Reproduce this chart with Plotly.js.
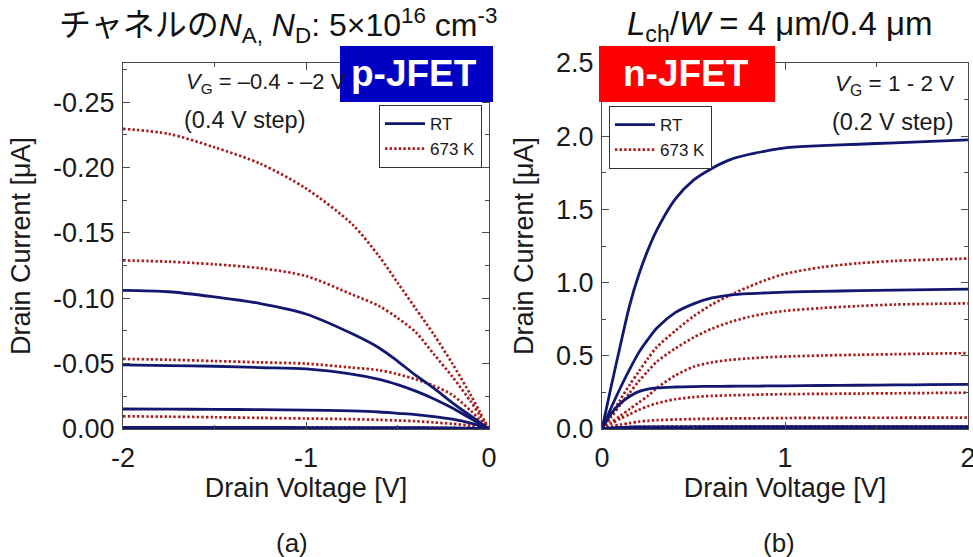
<!DOCTYPE html>
<html>
<head>
<meta charset="utf-8">
<script src="https://cdn.plot.ly/plotly-3.0.1.min.js"></script>
<style>html,body{margin:0;padding:0;background:#fff;}#chart{width:973px;height:557px;}</style>
</head>
<body>
<div id="chart"></div>
<script>
// ---------- data: p-JFET (a) ----------
const vdP = [-2, -1.75, -1.5, -1.25, -1, -0.75, -0.6, -0.5, -0.4, -0.3, -0.2, -0.1, -0.05, 0];
const idP_RT_1 = [-0.106,-0.105,-0.101,-0.096,-0.088,-0.073,-0.062,-0.052,-0.041,-0.031,-0.020,-0.010,-0.005,0];
const idP_RT_2 = [-0.049,-0.0485,-0.048,-0.047,-0.046,-0.042,-0.038,-0.034,-0.029,-0.023,-0.016,-0.008,-0.004,0];
const idP_RT_3 = [-0.0153,-0.0152,-0.015,-0.0148,-0.0145,-0.0138,-0.013,-0.012,-0.011,-0.0095,-0.0075,-0.0045,-0.0025,0];
const idP_RT_4 = [-0.0012,-0.0012,-0.0012,-0.0012,-0.0011,-0.0011,-0.0011,-0.001,-0.001,-0.0009,-0.0008,-0.0006,-0.0004,0];
const idP_RT_5 = [-0.0003,-0.0003,-0.0003,-0.0003,-0.0003,-0.0003,-0.0003,-0.0003,-0.0003,-0.0002,-0.0002,-0.0001,-0.0001,0];
const idP_HT_1 = [-0.2296,-0.2258,-0.2155,-0.203,-0.184,-0.157,-0.132,-0.112,-0.092,-0.072,-0.050,-0.026,-0.013,0];
const idP_HT_2 = [-0.129,-0.128,-0.126,-0.123,-0.117,-0.103,-0.094,-0.085,-0.074,-0.057,-0.040,-0.021,-0.0105,0];
const idP_HT_3 = [-0.0536,-0.053,-0.052,-0.051,-0.050,-0.047,-0.045,-0.042,-0.038,-0.033,-0.026,-0.014,-0.007,0];
const idP_HT_4 = [-0.0097,-0.0094,-0.009,-0.0085,-0.008,-0.0075,-0.007,-0.0065,-0.006,-0.005,-0.004,-0.0025,-0.0013,0];
const idP_HT_5 = [-0.0012,-0.0012,-0.0012,-0.0012,-0.0012,-0.0012,-0.0011,-0.0011,-0.001,-0.001,-0.0008,-0.0005,-0.0003,0];

// ---------- data: n-JFET (b) ----------
const vdN = [0, 0.05, 0.1, 0.15, 0.2, 0.25, 0.3, 0.4, 0.5, 0.6, 0.7, 0.8, 0.9, 1.0, 1.2, 1.4, 1.6, 1.8, 2.0];
const idN_RT_1 = [0,0.29,0.57,0.84,1.05,1.22,1.36,1.57,1.70,1.78,1.84,1.875,1.90,1.92,1.935,1.945,1.955,1.965,1.975];
const idN_RT_2 = [0,0.145,0.28,0.405,0.52,0.61,0.69,0.795,0.855,0.895,0.915,0.925,0.93,0.935,0.94,0.945,0.948,0.952,0.955];
const idN_RT_3 = [0,0.105,0.175,0.222,0.255,0.272,0.281,0.287,0.29,0.291,0.292,0.293,0.294,0.295,0.297,0.299,0.301,0.303,0.305];
const idN_RT_4 = [0,0.007,0.011,0.013,0.014,0.015,0.015,0.015,0.015,0.016,0.016,0.016,0.016,0.016,0.016,0.016,0.016,0.016,0.016];
const idN_RT_5 = [0,0.002,0.003,0.003,0.003,0.003,0.003,0.003,0.003,0.003,0.003,0.003,0.003,0.003,0.003,0.003,0.003,0.003,0.003];
const idN_RT_6 = [0,0.0003,0.0005,0.0005,0.0005,0.0005,0.0005,0.0005,0.0005,0.0005,0.0005,0.0005,0.0005,0.0005,0.0005,0.0005,0.0005,0.0005,0.0005];
const idN_HT_1 = [0,0.10,0.20,0.30,0.39,0.48,0.56,0.67,0.77,0.85,0.914,0.97,1.02,1.06,1.105,1.132,1.148,1.157,1.164];
const idN_HT_2 = [0,0.08,0.165,0.245,0.325,0.395,0.46,0.55,0.625,0.685,0.73,0.765,0.79,0.807,0.826,0.84,0.85,0.855,0.858];
const idN_HT_3 = [0,0.045,0.09,0.135,0.18,0.225,0.28,0.365,0.425,0.455,0.472,0.482,0.49,0.495,0.502,0.507,0.511,0.515,0.518];
const idN_HT_4 = [0,0.035,0.07,0.10,0.13,0.155,0.175,0.203,0.218,0.226,0.23,0.233,0.236,0.238,0.24,0.242,0.244,0.246,0.248];
const idN_HT_5 = [0,0.015,0.03,0.04,0.05,0.056,0.06,0.065,0.068,0.07,0.072,0.073,0.074,0.075,0.076,0.077,0.077,0.078,0.078];
const idN_HT_6 = [0,0.006,0.011,0.014,0.016,0.017,0.017,0.018,0.018,0.018,0.018,0.018,0.018,0.018,0.018,0.018,0.018,0.018,0.018];

// ---------- tick labels ----------
const pTickVals = [0, -0.05, -0.10, -0.15, -0.20, -0.25];
const pTickText = ['0.00', '-0.05', '-0.10', '-0.15', '-0.20', '-0.25'];
const pXTickVals = [-2, -1, 0];
const pXTickText = ['-2', '-1', '0'];
const legendNames = ['RT', '673 K'];

// ---------- styling ----------
const W = 973, H = 557;
const px = x => x / W;
const py = y => 1 - y / H;
const NAVY = '#121870';
const RED = '#a81c1c';
const FONT = 'Liberation Sans, Arial, sans-serif';
const TXT = '#1a1a1a';

const rtLine = {color: NAVY, width: 2.8, shape: 'spline', smoothing: 0.8};
const htLine = {color: RED, width: 2.7, dash: '2.4px,2.2px', shape: 'spline', smoothing: 0.8};

const traces = [];
function add(x, y, isRT, xa, ya, leg, show) {
  traces.push({
    x: x, y: y, type: 'scatter', mode: 'lines',
    line: isRT ? rtLine : htLine,
    name: isRT ? legendNames[0] : legendNames[1],
    legendrank: isRT ? 1 : 2,
    xaxis: xa, yaxis: ya, legend: leg,
    showlegend: show, hoverinfo: 'skip'
  });
}
[idP_HT_1, idP_HT_2, idP_HT_3, idP_HT_4, idP_HT_5].forEach((d, i) => add(vdP, d, false, 'x', 'y', 'legend', i === 0));
[idP_RT_1, idP_RT_2, idP_RT_3, idP_RT_4, idP_RT_5].forEach((d, i) => add(vdP, d, true, 'x', 'y', 'legend', i === 0));
[idN_HT_1, idN_HT_2, idN_HT_3, idN_HT_4, idN_HT_5, idN_HT_6].forEach((d, i) => add(vdN, d, false, 'x2', 'y2', 'legend2', i === 0));
[idN_RT_1, idN_RT_2, idN_RT_3, idN_RT_4, idN_RT_5, idN_RT_6].forEach((d, i) => add(vdN, d, true, 'x2', 'y2', 'legend2', i === 0));

const axCommon = {
  showline: true, linecolor: '#4a4a4a', linewidth: 1, mirror: 'allticks',
  ticks: 'inside', ticklen: 7, tickwidth: 1, tickcolor: '#4a4a4a',
  showgrid: false, zeroline: false, ticklabeloverflow: 'allow',
  tickfont: {family: FONT, size: 27, color: TXT}
};
const minorCommon = {ticks: 'inside', ticklen: 4, tickwidth: 1, tickcolor: '#4a4a4a', showgrid: false};
const xTitleFont = {family: FONT, size: 27, color: TXT};

const layout = {
  width: W, height: H,
  margin: {l: 0, r: 0, t: 0, b: 0},
  paper_bgcolor: '#fff', plot_bgcolor: '#fff',
  font: {family: FONT, color: TXT},
  xaxis: Object.assign({}, axCommon, {
    domain: [px(123), px(489)], range: [-2, 0], anchor: 'y',
    tickmode: 'array', tickvals: pXTickVals, ticktext: pXTickText, ticklabelstandoff: 5,
    minor: Object.assign({}, minorCommon, {tickmode: 'array', tickvals: [-1.5, -0.5]}),
    title: {text: 'Drain Voltage [V]', font: xTitleFont, standoff: 3}
  }),
  yaxis: Object.assign({}, axCommon, {
    domain: [py(429), py(63)], range: [0, -0.28], anchor: 'x',
    tickmode: 'array', tickvals: pTickVals, ticktext: pTickText, ticklabelstandoff: 2,
    minor: Object.assign({}, minorCommon, {tickmode: 'array', tickvals: [-0.025, -0.075, -0.125, -0.175, -0.225, -0.275]}),
    title: {text: 'Drain Current [μA]', font: xTitleFont, standoff: 14}
  }),
  xaxis2: Object.assign({}, axCommon, {
    domain: [px(602), px(968)], range: [0, 2], anchor: 'y2',
    tickmode: 'linear', tick0: 0, dtick: 1, ticklabelstandoff: 5,
    minor: Object.assign({}, minorCommon, {tickmode: 'linear', tick0: 0, dtick: 0.5}),
    title: {text: 'Drain Voltage [V]', font: xTitleFont, standoff: 3}
  }),
  yaxis2: Object.assign({}, axCommon, {
    domain: [py(429), py(63)], range: [0, 2.5], anchor: 'x2',
    tickmode: 'linear', tick0: 0, dtick: 0.5, tickformat: '.1f', ticklabelstandoff: 2,
    minor: Object.assign({}, minorCommon, {tickmode: 'linear', tick0: 0, dtick: 0.25}),
    title: {text: 'Drain Current [μA]', font: xTitleFont, standoff: 14}
  }),
  legend: {
    x: px(379), y: py(105), xanchor: 'left', yanchor: 'top',
    bgcolor: '#fff', bordercolor: '#333', borderwidth: 1,
    font: {family: FONT, size: 17, color: TXT},
    itemwidth: 40, tracegroupgap: 0, traceorder: 'normal'
  },
  legend2: {
    x: px(609), y: py(106), xanchor: 'left', yanchor: 'top',
    bgcolor: '#fff', bordercolor: '#333', borderwidth: 1,
    font: {family: FONT, size: 17, color: TXT},
    itemwidth: 40, tracegroupgap: 0, traceorder: 'normal'
  },
  shapes: [
    {type: 'rect', xref: 'paper', yref: 'paper', x0: px(340), x1: px(493), y0: py(102), y1: py(46),
     fillcolor: '#0000c4', line: {width: 0}, layer: 'above'},
    {type: 'rect', xref: 'paper', yref: 'paper', x0: px(599), x1: px(775), y0: py(102), y1: py(46),
     fillcolor: '#ff0000', line: {width: 0}, layer: 'above'}
  ],
  annotations: [
    {xref: 'paper', yref: 'paper', x: px(278), y: py(25), xanchor: 'center', yanchor: 'middle', showarrow: false,
     text: 'チャネルの<i>N</i><sub>A,</sub> <i>N</i><sub>D</sub>: 5×10<sup>16</sup> cm<sup>-3</sup>',
     font: {family: 'Liberation Sans, Noto Sans CJK JP, sans-serif', size: 32, color: '#111'}},
    {xref: 'paper', yref: 'paper', x: px(779), y: py(26), xanchor: 'center', yanchor: 'middle', showarrow: false,
     text: '<i>L</i><sub>ch</sub>/<i>W</i> = 4 μm/0.4 μm',
     font: {family: FONT, size: 33, color: '#111'}},
    {xref: 'paper', yref: 'paper', x: px(414), y: py(74), xanchor: 'center', yanchor: 'middle', showarrow: false,
     text: '<b>p-JFET</b>', font: {family: FONT, size: 37, color: '#fff'}},
    {xref: 'paper', yref: 'paper', x: px(686), y: py(74), xanchor: 'center', yanchor: 'middle', showarrow: false,
     text: '<b>n-JFET</b>', font: {family: FONT, size: 37, color: '#fff'}},
    {xref: 'paper', yref: 'paper', x: px(184), y: py(83), xanchor: 'left', yanchor: 'middle', showarrow: false,
     text: '<i>V</i><sub>G</sub> = –0.4 - –2 V', font: {family: FONT, size: 22, color: TXT}},
    {xref: 'paper', yref: 'paper', x: px(182), y: py(120), xanchor: 'left', yanchor: 'middle', showarrow: false,
     text: '(0.4 V step)', font: {family: FONT, size: 23.5, color: TXT}},
    {xref: 'paper', yref: 'paper', x: px(956), y: py(85), xanchor: 'right', yanchor: 'middle', showarrow: false,
     text: '<i>V</i><sub>G</sub> = 1 - 2 V', font: {family: FONT, size: 22.5, color: TXT}},
    {xref: 'paper', yref: 'paper', x: px(955), y: py(122), xanchor: 'right', yanchor: 'middle', showarrow: false,
     text: '(0.2 V step)', font: {family: FONT, size: 23.5, color: TXT}},
    {xref: 'paper', yref: 'paper', x: px(292), y: py(543), xanchor: 'center', yanchor: 'middle', showarrow: false,
     text: '(a)', font: {family: FONT, size: 26, color: TXT}},
    {xref: 'paper', yref: 'paper', x: px(779), y: py(543), xanchor: 'center', yanchor: 'middle', showarrow: false,
     text: '(b)', font: {family: FONT, size: 26, color: TXT}}
  ]
};

Plotly.newPlot('chart', traces, layout, {displayModeBar: false, staticPlot: true});
</script>
</body>
</html>
